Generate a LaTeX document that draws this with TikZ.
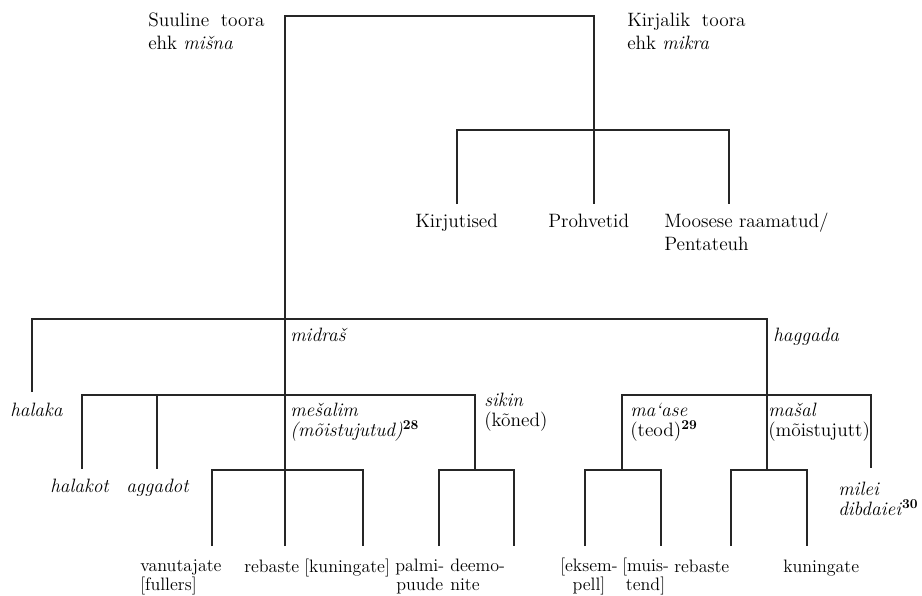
\documentclass[tikz,border=0pt]{standalone}
\usepackage{fontspec}
\begin{document}
\begin{tikzpicture}[x=0.75pt,y=-0.75pt,
  br/.style={line width=0.9pt, draw=black!85},
  lbl/.style={anchor=base west, inner sep=0pt, align=left, text=black,
    font=\fontsize{14.5pt}{17.25pt}\selectfont},
  lblm/.style={lbl, font=\fontsize{14.5pt}{15pt}\selectfont},
  lblc/.style={lbl, align=center, font=\fontsize{13.5pt}{14pt}\selectfont},
  lblb/.style={lbl, font=\fontsize{13.5pt}{14pt}\selectfont}]
\useasboundingbox (0,0) rectangle (922,596);
% ---- junction coordinates
\coordinate (t1) at (285,16);
\coordinate (t2) at (594,16);
\coordinate (w1) at (457,130);
\coordinate (w2) at (594,130);
\coordinate (w3) at (729,130);
\coordinate (w1e) at (457,204);
\coordinate (w2e) at (594,204);
\coordinate (w3e) at (729,204);
\coordinate (m0) at (285,319);
\coordinate (hl) at (32,319);
\coordinate (hle) at (32,392);
\coordinate (hg) at (767,319);
\coordinate (a1) at (82,395);
\coordinate (a2) at (157,395);
\coordinate (a3) at (285,395);
\coordinate (a4) at (475,395);
\coordinate (a1e) at (82,469);
\coordinate (a2e) at (157,469);
\coordinate (b1) at (622,395);
\coordinate (b2) at (767,395);
\coordinate (b3) at (871,395);
\coordinate (b3e) at (871,468);
% level 3
\coordinate (c1) at (212,470);
\coordinate (c2) at (285,470);
\coordinate (c3) at (363,470);
\coordinate (c1e) at (212,546);
\coordinate (c2e) at (285,546);
\coordinate (c3e) at (363,546);
\coordinate (d0) at (475,470);
\coordinate (d1) at (439,470);
\coordinate (d2) at (514,470);
\coordinate (d1e) at (439,546);
\coordinate (d2e) at (514,546);
\coordinate (e0) at (622,470);
\coordinate (e1) at (585,470);
\coordinate (e2) at (661,470);
\coordinate (e1e) at (585,546);
\coordinate (e2e) at (661,546);
\coordinate (f0) at (767,470);
\coordinate (f1) at (731,470);
\coordinate (f2) at (807,470);
\coordinate (f1e) at (731,546);
\coordinate (f2e) at (807,546);
% ---- connectors
\draw[br] (c2e) -- (t1) -- (t2) -- (w2e);
\draw[br] (w1e) -- (w1) -- (w3) -- (w3e);
\draw[br] (hle) -- (hl) -- (hg) -- (f0);
\draw[br] (a1e) -- (a1) -- (a4) -- (d0);
\draw[br] (a2) -- (a2e);
\draw[br] (e0) -- (b1) -- (b3) -- (b3e);
\draw[br] (c1e) -- (c1) -- (c3) -- (c3e);
\draw[br] (d1e) -- (d1) -- (d2) -- (d2e);
\draw[br] (e1e) -- (e1) -- (e2) -- (e2e);
\draw[br] (f1e) -- (f1) -- (f2) -- (f2e);
% ---- labels (base = baseline of last line)
\node[lbl] (suuline) at (148,50) {Suuline\hspace{0.6em}toora\\ehk \textit{mišna}};
\node[lbl] (kirjalik) at (627,50) {Kirjalik\hspace{0.6em}toora\\ehk \textit{mikra}};
\node[lbl] (kirjutised) at (415,227) {Kirjutised};
\node[lbl] (prohvetid) at (548,227) {Prohvetid};
\node[lbl] (moosese) at (664,250) {Moosese raamatud/\\Pentateuh};
\node[lbl] (midras) at (290,341) {\textit{midraš}};
\node[lbl] (haggada) at (773,341) {\textit{haggada}};
\node[lbl] (halaka) at (10,416) {\textit{halaka}};
\node[lblm] (mesalim) at (290,436) {\textit{mešalim}\\\textit{(mõistujutud)}\textsuperscript{\bfseries 28}};
\node[lblm] (sikin) at (484,426) {\textit{sikin}\\(kõned)};
\node[lblm] (maase) at (630,436) {\textit{ma‘ase}\\(teod)\textsuperscript{\bfseries 29}};
\node[lblm] (masal) at (768,436) {\textit{mašal}\\(mõistujutt)};
\node[lbl] (halakot) at (50,492) {\textit{halakot}};
\node[lbl] (aggadot) at (126,492) {\textit{aggadot}};
\node[lblm] (milei) at (838,515) {\textit{milei}\\\textit{dibdaiei}\textsuperscript{\bfseries 30}};
\node[lblb] (vanut) at (140,590) {vanutajate\\{}[fullers]};
\node[lblb] (rebaste1) at (244,572) {rebaste};
\node[lblb] (kuning1) at (304,572) {[kuningate]};
\node[lblc] (palmi) at (395,590) {palmi-\\puude};
\node[lblb] (deemo) at (450,590) {deemo-\\nite};
\node[lblc] (eksem) at (560,590) {[eksem-\\pell]};
\node[lblc] (muis) at (622,590) {[muis-\\tend]};
\node[lblb] (rebaste2) at (674,572) {rebaste};
\node[lblb] (kuning2) at (783,572) {kuningate};
\end{tikzpicture}
\end{document}
